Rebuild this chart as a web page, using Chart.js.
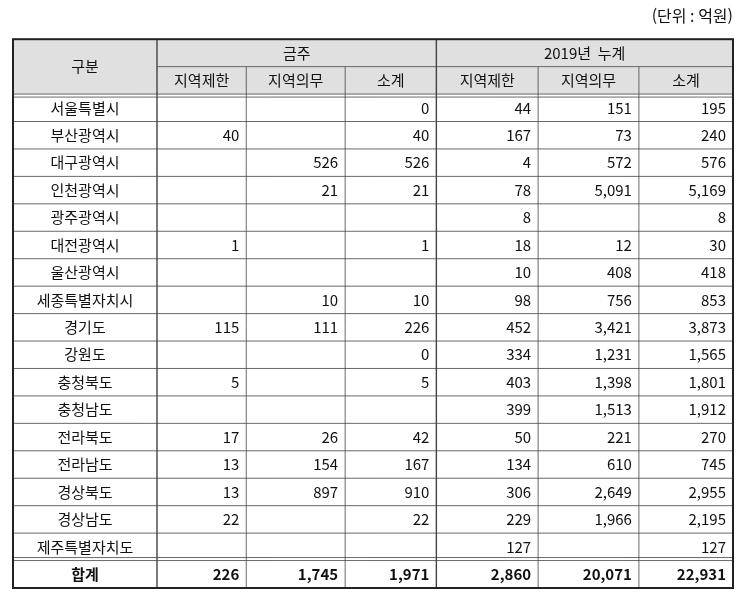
<!DOCTYPE html>
<html lang="ko">
<head>
<meta charset="utf-8" />
<title>지역제한·지역의무 발주 현황</title>
<script src="https://cdn.jsdelivr.net/npm/chart.js"></script>
<style>
  body { margin: 0; background: #fff; }
  .box { width: 745px; height: 593px; }
</style>
</head>
<body>
<div class="box"><canvas id="tbl"></canvas></div>
<script>
const regions = ["서울특별시","부산광역시","대구광역시","인천광역시","광주광역시","대전광역시","울산광역시","세종특별자치시","경기도","강원도","충청북도","충청남도","전라북도","전라남도","경상북도","경상남도","제주특별자치도"];
const weekLimit = [null,40,null,null,null,1,null,null,115,null,5,null,17,13,13,22,null];
const weekDuty  = [null,null,526,21,null,null,null,10,111,null,null,null,26,154,897,null,null];
const weekSub   = [0,40,526,21,null,1,null,10,226,0,5,null,42,167,910,22,null];
const yearLimit = [44,167,4,78,8,18,10,98,452,334,403,399,50,134,306,229,127];
const yearDuty  = [151,73,572,5091,null,12,408,756,3421,1231,1398,1513,221,610,2649,1966,null];
const yearSub   = [195,240,576,5169,8,30,418,853,3873,1565,1801,1912,270,745,2955,2195,127];
const totals = [226,1745,1971,2860,20071,22931];
const subHeads = ["지역제한","지역의무","소계","지역제한","지역의무","소계"];
const columns = [weekLimit, weekDuty, weekSub, yearLimit, yearDuty, yearSub];

// column edges in x-scale units (table width 7.5)
const edges = [0, 1.5, 2.43, 3.46, 4.41, 5.47, 6.52, 7.5];
const colLeft = (c) => edges[c];
const colRight = (c) => edges[c + 1];
const colMid = (c) => (edges[c] + edges[c + 1]) / 2;
const fmt = (v) => v.toLocaleString("en-US");
const FONT = '"Noto Sans CJK KR", "Noto Sans", sans-serif';

const points = [];
columns.forEach((col, c) => col.forEach((v, r) => {
  if (v !== null) points.push({ x: colRight(c + 1), y: r + 2.5, v });
}));

const tablePlugin = {
  id: "tablePlugin",
  afterDraw(chart) {
    const { ctx, scales: { x, y } } = chart;
    const X = (v) => x.getPixelForValue(v);
    const Y = (v) => y.getPixelForValue(v);
    ctx.save();
    ctx.fillStyle = "#e0e0e0";
    ctx.fillRect(X(0), Y(0), X(7.5) - X(0), Y(2) - Y(0));

    const line = (x1, y1, x2, y2, w, col) => {
      ctx.beginPath(); ctx.lineWidth = w; ctx.strokeStyle = col || "#444";
      ctx.moveTo(x1, y1); ctx.lineTo(x2, y2); ctx.stroke();
    };
    for (let r = 1; r <= 19; r++) {
      const x1 = r === 1 ? X(1.5) : X(0);
      line(x1, Y(r), X(7.5), Y(r), 0.8);
    }
    line(X(0), Y(2) + 3, X(7.5), Y(2) + 3, 0.8);
    line(X(0), Y(19) - 3, X(7.5), Y(19) - 3, 0.8);
    for (let c = 1; c <= 6; c++) {
      const top = (c === 2 || c === 3 || c === 5 || c === 6) ? Y(1) : Y(0);
      line(X(colLeft(c)), top, X(colLeft(c)), Y(20), c === 1 || c === 4 ? 1.4 : 0.8);
    }
    ctx.lineWidth = 2; ctx.strokeStyle = "#222";
    ctx.strokeRect(X(0), Y(0), X(7.5) - X(0), Y(20) - Y(0));

    ctx.fillStyle = "#111";
    ctx.textBaseline = "middle";
    ctx.font = "15px " + FONT;
    ctx.textAlign = "center";
    ctx.fillText("구분", X(0.75), Y(1));
    ctx.fillText("금주", (X(1.5) + X(4.41)) / 2, Y(0.5));
    ctx.fillText("2019년  누계", (X(4.41) + X(7.5)) / 2, Y(0.5));
    subHeads.forEach((h, i) => ctx.fillText(h, X(colMid(i + 1)), Y(1.5)));
    regions.forEach((name, r) => ctx.fillText(name, X(0.75), Y(r + 2.5)));

    ctx.textAlign = "right";
    chart.data.datasets[0].data.forEach((p) => {
      ctx.fillText(fmt(p.v), X(p.x) - 7, Y(p.y));
    });
    ctx.font = "bold 15px " + FONT;
    ctx.textAlign = "center";
    ctx.fillText("합계", X(0.75), Y(19.5));
    ctx.textAlign = "right";
    totals.forEach((t, i) => ctx.fillText(fmt(t), X(colRight(i + 1)) - 7, Y(19.5)));
    ctx.restore();
  },
};

new Chart(document.getElementById("tbl"), {
  type: "scatter",
  data: { datasets: [{ data: points, pointRadius: 0, showLine: false }] },
  options: {
    responsive: true,
    maintainAspectRatio: false,
    animation: false,
    layout: { padding: { left: 13, right: 12, top: 0, bottom: 5 } },
    plugins: {
      legend: { display: false },
      tooltip: { enabled: false },
      title: {
        display: true,
        text: "(단위 : 억원)",
        align: "end",
        color: "#111",
        font: { family: FONT, size: 16, weight: "normal" },
        padding: { top: 6, bottom: 14 },
      },
    },
    scales: {
      x: { type: "linear", min: 0, max: 7.5, display: false },
      y: { type: "linear", min: 0, max: 20, reverse: true, display: false },
    },
  },
  plugins: [tablePlugin],
});
</script>
</body>
</html>
